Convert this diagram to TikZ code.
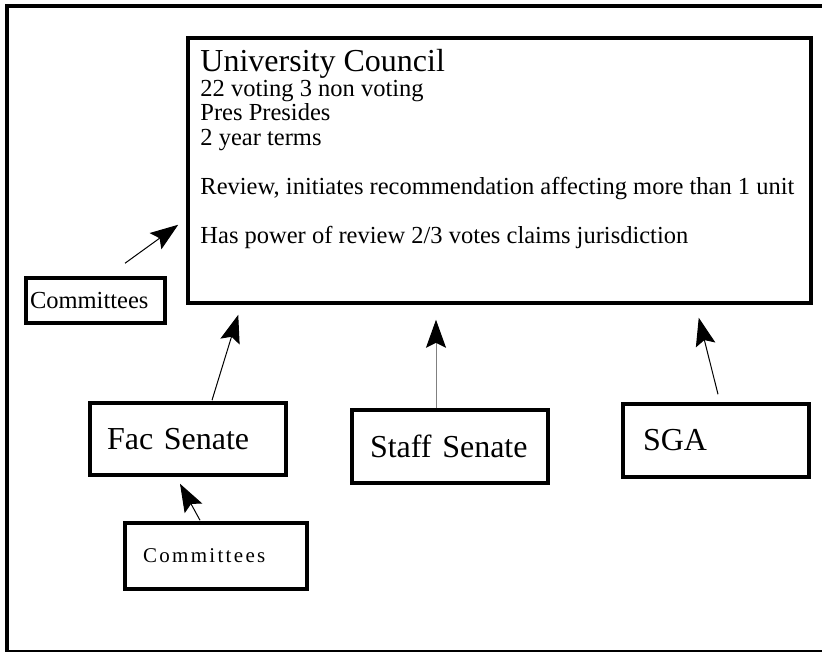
\documentclass[tikz,border=0pt]{standalone}
\usepackage{fontspec}
\setmainfont{Liberation Serif}
\usepackage{tikz}
\usetikzlibrary{positioning, arrows.meta}

\begin{document}
\begin{tikzpicture}[x=1pt, y=-1pt,
		box/.style={draw, line width=3.5pt, inner sep=0pt, align=left},
		link/.style={line width=1pt, -{Stealth[length=28pt, width=20pt, inset=5pt, color=black]}},
		bodyfont/.style={font=\fontsize{24.5}{24.5}\selectfont},
		namefont/.style={font=\fontsize{32}{36}\selectfont}]
		\useasboundingbox (0,0) rectangle (822,652);
		\draw[line width=3.5pt] (830,6) -- (7,6) -- (7,652);
		\draw[line width=1.8pt] (7,651) -- (830,651);

		\node[box, minimum width=623pt, minimum height=265pt] (council) at (499.5,170.5) {};
		\node[bodyfont, below right=13pt and 14pt of council.north west, inner sep=0pt, align=left] (councilText) {%
			{\fontsize{32}{36}\selectfont University Council}\\
			22 voting 3 non voting\\
			Pres Presides\\
			2 year terms\\[24.5pt]
			Review, initiates recommendation affecting more than 1 unit\\[24.5pt]
			Has power of review 2/3 votes claims jurisdiction};

		\node[box, bodyfont, minimum width=139pt, minimum height=45pt, text width=131pt] (cmtA) at (95.5,300.5) {Committees};
		\node[box, namefont, minimum width=196pt, minimum height=72pt, text width=162pt] (facSen) at (188,439) {Fac Senate};
		\node[box, namefont, minimum width=196pt, minimum height=73pt, text width=160pt] (staffSen) at (450,446.5) {Staff Senate};
		\node[box, namefont, minimum width=186pt, minimum height=73pt, text width=146pt] (sga) at (716,440.5) {SGA};
		\node[box, font=\fontsize{21}{24}\selectfont\addfontfeature{LetterSpace=11}, minimum width=182pt, minimum height=66pt, text width=146pt] (cmtB) at (216,556) {Committees};

		\draw[link] ([shift={(29.5,-13)}]cmtA.north) -- ([shift={(-8,-80)}]council.south west);
		\draw[link] ([shift={(24,-1)}]facSen.north) -- ([shift={(52,10)}]council.south west);
		\draw[link, draw=gray] ([shift={(-14,0)}]staffSen.north) -- ([shift={(-63.5,15)}]council.south);
		\draw[link] ([shift={(2,-8)}]sga.north) -- ([shift={(-114,13)}]council.south east);
		\draw[link] ([shift={(-16,-1)}]cmtB.north) -- ([shift={(-8,7)}]facSen.south);
	\end{tikzpicture}
\end{document}
